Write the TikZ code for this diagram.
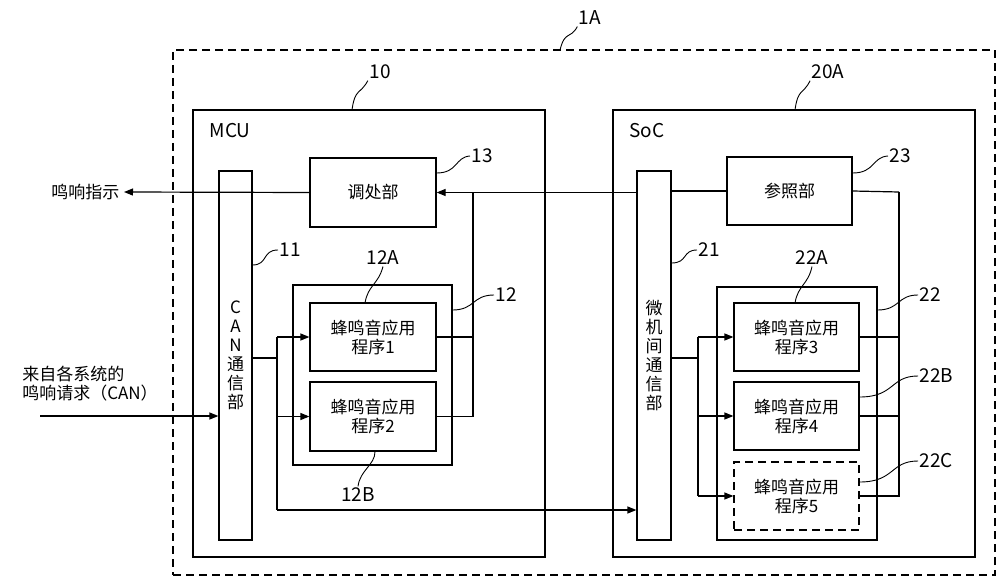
\documentclass[tikz,border=0pt]{standalone}
\usepackage{fontspec}
\setmainfont{Noto Sans CJK SC}
\usetikzlibrary{arrows.meta}
\begin{document}
\begin{tikzpicture}[x=1pt,y=-1pt,line width=1.2pt,
  box/.style={draw,inner sep=0pt,align=center,font=\fontsize{17}{19}\selectfont},
  lbl/.style={font=\fontsize{19}{21}\selectfont,inner sep=1pt},
  lead/.style={line width=0.9pt},
  dsh/.style={dash pattern=on 8pt off 5pt},
  arr/.style={-{Triangle[length=9pt,width=7pt]}}]
\useasboundingbox (0,0) rectangle (1000,585);
% outer
\node[draw,dsh,inner sep=0pt,minimum width=822pt,minimum height=525pt] (sys) at (584,312.5) {};
\node[box,minimum width=352pt,minimum height=447pt] (mcu) at (369,333.5) {};
\node[box,minimum width=362pt,minimum height=447pt] (soc) at (794,333.5) {};
\node[lbl,anchor=west] (mcut) at (208,131) {MCU};
\node[lbl,anchor=west] (soct) at (628,131) {SoC};
% MCU
\node[box,minimum width=33pt,minimum height=369pt] (can) at (235.5,355.5) {C\\A\\N\\通\\信\\部};
\node[box,minimum width=126pt,minimum height=69pt] (adj) at (373,192.5) {调处部};
\node[box,minimum width=159pt,minimum height=180pt] (g12) at (372.5,375) {};
\node[box,minimum width=126pt,minimum height=68pt] (a1) at (373,337) {蜂鸣音应用\\程序1};
\node[box,minimum width=126pt,minimum height=69pt] (a2) at (373,416.5) {蜂鸣音应用\\程序2};
% SoC
\node[box,minimum width=34pt,minimum height=369pt] (com) at (654,355.5) {微\\机\\间\\通\\信\\部};
\node[box,minimum width=125pt,minimum height=68pt] (ref) at (789.5,191) {参照部};
\node[box,minimum width=160pt,minimum height=253pt] (g22) at (797,413.5) {};
\node[box,minimum width=125pt,minimum height=68pt] (a3) at (796.5,337) {蜂鸣音应用\\程序3};
\node[box,minimum width=125pt,minimum height=68pt] (a4) at (796.5,416) {蜂鸣音应用\\程序4};
\node[box,dsh,minimum width=125pt,minimum height=68pt] (a5) at (796.5,496) {蜂鸣音应用\\程序5};
% external texts
\node[box,draw=none,anchor=east] (out) at (120,192) {鸣响指示};
\node[box,draw=none,align=left] (req) at (90,384) {来自各系统的\\鸣响请求（CAN）};
\coordinate (outtip) at (124,192);
\coordinate (inst) at (40,416);
% connectors MCU
\draw[arr] (adj.west) -- (outtip);
\coordinate (j13) at (473,192);
\draw (a1.east) -- (j13 |- a1.east);
\draw (a2.east) -- (j13 |- a2.east) -- (j13);
\coordinate (c1) at (277,358);
\draw (can.east |- c1) -- (c1);
\draw[arr] (c1 |- a1.west) -- (a1.west);
\draw[arr] (c1 |- a2.west) -- (a2.west);
\coordinate (c1b) at (277,510);
\draw (c1 |- a1.west) -- (c1b);
\draw[arr] (c1b) -- (com.west |- c1b);
\draw[arr] (inst) -- (can.west |- inst);
% connectors SoC
\draw[arr] (com.west |- adj.east) -- (adj.east);
\draw (ref.west) -- (com.east |- ref.west);
\coordinate (r1) at (899,192);
\draw (ref.east) -- (r1);
\draw (a3.east) -- (r1 |- a3.east);
\draw (a4.east) -- (r1 |- a4.east);
\draw (a5.east) -- (r1 |- a5.east) -- (r1);
\coordinate (c2) at (698,358);
\draw (com.east |- c2) -- (c2);
\draw (c2 |- a3.west) -- (c2 |- a5.west);
\draw[arr] (c2 |- a3.west) -- (a3.west);
\draw[arr] (c2 |- a4.west) -- (a4.west);
\draw[arr] (c2 |- a5.west) -- (a5.west);
% labels with leaders
\node[lbl] (l1A) at (590,18) {1A};
\draw[lead] (560,50) .. controls (565,30) and (570,40) .. (l1A.south west);
\node[lbl] (l10) at (380,72) {10};
\draw[lead] (352,110) .. controls (355,88) and (360,95) .. (l10.south west);
\node[lbl] (l20) at (828,72) {20A};
\draw[lead] (795,110) .. controls (798,88) and (803,95) .. (l20.south west);
\node[lbl,anchor=west] (l13) at (470,156) {13};
\draw[lead] (adj.east |- 0,173) .. controls (458,173) and (455,157) .. (l13.west);
\node[lbl,anchor=west] (l11) at (278,250) {11};
\draw[lead] (can.east |- 0,265) .. controls (268,265) and (262,250) .. (l11.west);
\node[lbl] (l12A) at (383,258) {12A};
\draw[lead] (365,303) .. controls (368,285) and (378,285) .. (l12A.south);
\node[lbl,anchor=west] (l12) at (494,295) {12};
\draw[lead] (g12.east |- 0,310) .. controls (475,310) and (472,295) .. (l12.west);
\node[lbl] (l12B) at (358,495) {12B};
\draw[lead] (a2.south -| 375,0) .. controls (375,465) and (360,470) .. (l12B.north);
\node[lbl,anchor=west] (l23) at (888,156) {23};
\draw[lead] (ref.east |- 0,173) .. controls (875,173) and (872,157) .. (l23.west);
\node[lbl,anchor=west] (l21) at (697,250) {21};
\draw[lead] (com.east |- 0,263) .. controls (688,263) and (682,250) .. (l21.west);
\node[lbl] (l22A) at (812,258) {22A};
\draw[lead] (795,303) .. controls (798,285) and (808,285) .. (l22A.south);
\node[lbl,anchor=west] (l22) at (918,295) {22};
\draw[lead] (g22.east |- 0,310) .. controls (900,310) and (897,295) .. (l22.west);
\node[lbl,anchor=west] (l22B) at (918,376) {22B};
\draw[lead] (a4.east |- 0,397) .. controls (895,397) and (890,376) .. (l22B.west);
\node[lbl,anchor=west] (l22C) at (918,461) {22C};
\draw[lead] (a5.east |- 0,482) .. controls (895,482) and (890,461) .. (l22C.west);
\end{tikzpicture}
\end{document}
